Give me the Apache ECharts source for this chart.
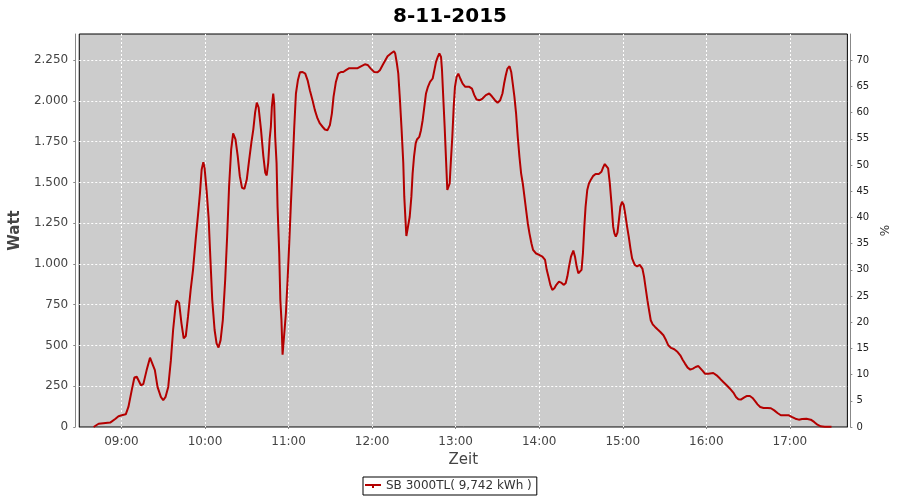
<!DOCTYPE html>
<html>
<head>
<meta charset="utf-8">
<script src="https://cdn.jsdelivr.net/npm/echarts@6/dist/echarts.min.js"></script>
<style>html,body{margin:0;padding:0;background:#fff;}#c{width:900px;height:500px;}</style>
</head>
<body>
<div id="c"></div>
<script>
const titleText = '8-11-2015';
const seriesName = 'SB 3000TL( 9,742 kWh )';
const leftAxisName = 'Watt';
const rightAxisName = '%';
const xAxisName = 'Zeit';
// time in minutes since midnight
const minutes = [520,523.6,524.8,531.9,535.5,537.9,540.2,543.1,545,547.4,549.3,551,554,555.7,558.1,560.5,561.7,564,565.9,568.3,570,571.7,573.6,575.5,577.1,578.8,579.7,581.4,583.1,584.7,586.2,587.8,589.7,591.4,593.3,595,596.4,597.6,598.8,599.7,601.2,602.6,603.8,605.2,606.9,608.3,609.7,611.2,612.8,614.5,615.9,617.3,618.8,620.2,621.9,623.5,625,626.6,628.3,630,631.6,633.3,634.7,636,637.2,638.5,640.2,641.9,643.3,644.3,645.4,646.4,647.3,648,649,649.7,650.4,651.4,652.1,653.3,654.1,654.9,655.7,656.9,658.1,659.3,660.5,661.7,662.9,664.1,665.3,666.7,668.2,670.1,672,673.7,675.3,677.2,678.9,680.8,682.5,684.4,686.1,688,689.7,691.1,692.3,694,695.7,697.6,699.3,701.2,703.6,707.2,709.6,712,714.8,716.8,719.2,721.5,723.9,725.6,727.5,729.5,731.1,733.5,735.7,736.6,737.8,738.8,740,741.2,742.4,743.1,744.1,744.6,746,747,748.2,749.1,750.1,751.3,752.2,753.9,755.1,756.3,757.5,758.7,760.1,761.6,763.5,764.7,765.9,767.1,768.3,769.5,770.2,771.2,772.1,773.1,774,775,775.7,776.6,777.6,778.6,779.5,780.7,781.9,783.3,785,786.9,789.8,791.7,793.4,795,797.4,799.3,801.7,804.1,806,808.2,810.1,812,813.6,814.8,816,817.2,818.7,819.9,821,822.2,823.4,824.6,825.8,827,828.2,829.4,830.6,831.8,833,834.4,835.6,837.5,839.9,842.3,844.2,845.4,846.6,848,849.4,850.9,852.3,854.2,855.7,857.5,859,860.2,861.4,862.8,864.5,865.7,866.9,868.1,869.2,870.4,871.4,872.4,873.3,874.5,875.7,877.2,878.6,880.5,882.8,884.7,885.9,887.1,888.3,889.5,890.7,891.9,893.1,894,895,896.2,897.1,898.3,899.5,900.7,901.9,903.1,904.3,905.5,906.7,908.6,910.3,912.2,914.1,915.3,916.5,917.7,918.9,920.1,921.5,923.2,925.1,927,929.2,931.1,932.7,934.7,937,939.4,941.3,943,944.7,946.6,948.5,950.4,952.3,954.3,955.7,957.4,959,961.4,965,967.4,969.8,972.2,974.6,977,979.4,981.3,983,984.8,987,988.9,991.3,993.2,994.9,996.8,998.7,1001.1,1004,1006.4,1008.8,1011.1,1013.5,1016.4,1019.3,1021.7,1024,1026.4,1028.8,1031.9,1035,1037.4,1039.8,1042.2,1045.1,1049.9];
const watts = [0,20,27,27,49,66,72,78,123,226,304,308,256,263,349,425,420,349,246,185,164,185,246,410,595,739,776,763,636,544,558,677,841,964,1149,1303,1436,1580,1625,1590,1446,1282,1046,780,595,513,488,533,656,903,1169,1477,1703,1801,1764,1662,1539,1467,1461,1518,1631,1744,1826,1930,1990,1960,1826,1662,1559,1543,1621,1764,1842,1964,2046,1984,1780,1617,1352,1066,780,657,443,433,698,902,1127,1372,1597,1842,2046,2127,2176,2178,2168,2127,2066,2005,1944,1893,1862,1842,1825,1821,1852,1923,2025,2117,2168,2178,2178,2189,2201,2201,2201,2213,2225,2221,2197,2178,2176,2189,2219,2250,2274,2291,2305,2291,2230,2168,2005,1821,1617,1413,1250,1172,1178,1290,1413,1556,1658,1740,1764,1780,1821,1882,1964,2046,2087,2117,2138,2189,2240,2270,2291,2270,2189,2005,1842,1637,1454,1444,1494,1637,1780,1964,2087,2148,2168,2138,2107,2087,2087,2076,2036,2009,2005,2015,2036,2046,2029,2005,1989,2005,2046,2107,2158,2199,2213,2178,2107,2025,1923,1780,1658,1556,1494,1413,1331,1250,1188,1127,1086,1066,1056,1045,1025,964,923,872,841,851,872,892,886,872,882,923,984,1045,1082,1045,984,943,933,964,1066,1229,1352,1454,1494,1519,1539,1552,1552,1566,1593,1613,1621,1586,1494,1372,1229,1188,1168,1192,1260,1352,1382,1362,1300,1229,1168,1096,1035,994,986,995,972,921,849,778,716,655,630,614,598,583,563,532,501,485,477,460,440,413,389,364,352,358,368,374,364,344,327,327,331,317,297,276,256,235,211,184,170,168,180,190,190,178,160,139,123,117,117,115,102,86,72,72,72,61,51,45,49,51,45,31,14,4,2,2];
const xMinMinutes = 509.7;
const xMaxMinutes = 1061.3;
const leftMax = 2411;
const leftInterval = 250;
const rightMax = 75;
const rightInterval = 5;

const day0 = Date.UTC(2015, 10, 8);
const toTs = m => day0 + Math.round(m * 60000);
const seriesData = minutes.map((m, i) => [toTs(m), watts[i]]);

const FONT = 'DejaVu Sans';
const gridLine = {show: true, showMinLine: false, showMaxLine: false, lineStyle: {color: '#ffffff', width: 1, type: [2, 2]}};
const chart = echarts.init(document.getElementById('c'), null, {renderer: 'canvas'});
chart.setOption({
  useUTC: true,
  animation: false,
  backgroundColor: '#ffffff',
  textStyle: {fontFamily: FONT},
  title: {
    text: titleText, left: 'center', top: 2,
    textStyle: {fontFamily: FONT, fontSize: 20, fontWeight: 'bold', color: '#000'}
  },
  legend: {
    left: 363, top: 477,
    padding: [3, 5, 3, 2],
    borderColor: '#000', borderWidth: 1, borderRadius: 0,
    backgroundColor: '#fff',
    itemWidth: 16, itemHeight: 4,
    icon: 'path://M0,0 L16,0 L16,2 L0,2 Z M7,2 L9,2 L9,4 L7,4 Z',
    textStyle: {fontFamily: FONT, fontSize: 12, color: '#333'},
    data: [seriesName]
  },
  grid: {
    left: 79, right: 51, top: 34, bottom: 73,
    show: true, backgroundColor: '#cccccc', borderColor: '#000', borderWidth: 1
  },
  xAxis: {
    type: 'time',
    min: toTs(xMinMinutes), max: toTs(xMaxMinutes),
    minInterval: 3600000, maxInterval: 3600000,
    offset: 4,
    name: xAxisName, nameLocation: 'middle', nameGap: 21,
    nameTextStyle: {fontFamily: FONT, fontSize: 15, color: '#444'},
    axisLine: {show: true, lineStyle: {color: '#888', width: 1}},
    axisTick: {show: true, length: 2, lineStyle: {color: '#888'}},
    axisLabel: {formatter: '{HH}:{mm}', fontFamily: FONT, fontSize: 12, color: '#444', margin: 5, hideOverlap: false, showMinLabel: false, showMaxLabel: false},
    splitLine: gridLine,
    minorTick: {show: false}
  },
  yAxis: [{
    type: 'value', position: 'left',
    min: 0, max: leftMax, interval: leftInterval,
    offset: 4,
    name: leftAxisName, nameLocation: 'middle', nameGap: 40, nameRotate: 90,
    nameTextStyle: {fontFamily: FONT, fontSize: 15, fontWeight: 'bold', color: '#444'},
    axisLine: {show: true, lineStyle: {color: '#888', width: 1}},
    axisTick: {show: true, length: 2, lineStyle: {color: '#888'}},
    axisLabel: {
      fontFamily: FONT, fontSize: 12, color: '#444', margin: 7, showMaxLabel: false,
      formatter: v => String(v).replace(/\B(?=(\d{3})+(?!\d))/g, '.')
    },
    splitLine: gridLine
  }, {
    type: 'value', position: 'right',
    min: 0, max: rightMax, interval: rightInterval,
    offset: 3,
    name: rightAxisName, nameLocation: 'middle', nameGap: 26, nameRotate: 90,
    nameTextStyle: {fontFamily: FONT, fontSize: 12, color: '#333'},
    axisLine: {show: true, lineStyle: {color: '#888', width: 1}},
    axisTick: {show: true, length: 2, lineStyle: {color: '#888'}},
    axisLabel: {fontFamily: FONT, fontSize: 10, color: '#222', margin: 6, showMaxLabel: false},
    splitLine: {show: false}
  }],
  series: [{
    name: seriesName,
    type: 'line',
    yAxisIndex: 0,
    data: seriesData,
    showSymbol: false, symbol: 'none',
    lineStyle: {color: '#b40000', width: 2},
    itemStyle: {color: '#b40000'}
  }]
});
</script>
</body>
</html>
